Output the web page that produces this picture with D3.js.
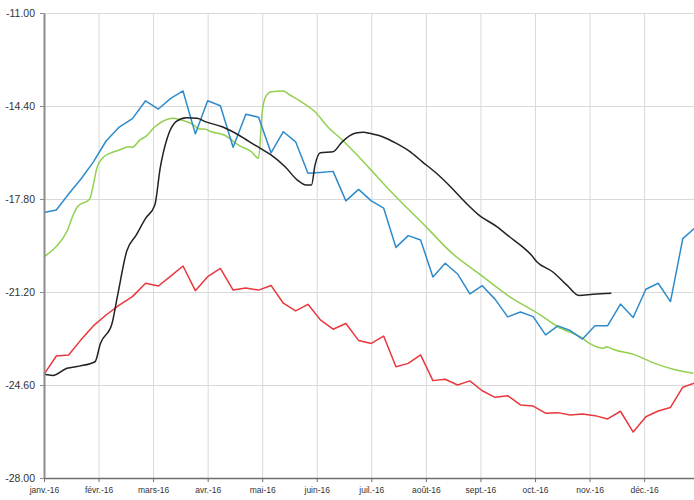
<!DOCTYPE html>
<html>
<head>
<meta charset="utf-8">
<script src="https://cdn.jsdelivr.net/npm/d3@7"></script>
<style>
  body { margin: 0; background: #fff; }
  svg { display: block; font-family: "Liberation Sans", Arial, sans-serif; }
  .grid line { stroke: #d9d9d9; stroke-width: 1; }
  .grid path { display: none; }
  .axis--y path { stroke: #8c8c8c; stroke-width: 2; }
  .axis--y line { stroke: #8c8c8c; }
  .axis--x path { stroke: #6e6e6e; stroke-width: 1.5; }
  .axis--x line { stroke: #6e6e6e; }
  .axis text { fill: #333; }
  .line { fill: none; stroke-width: 1.5; stroke-linejoin: round; }
</style>
</head>
<body>
<svg width="694" height="500"></svg>
<script>
// month labels on the x axis and values on the y axis
var monthLabels = ["janv.-16", "févr.-16", "mars-16", "avr.-16", "mai-16", "juin-16",
                   "juil.-16", "août-16", "sept.-16", "oct.-16", "nov.-16", "déc.-16"];
var yTicks = [-11, -14.4, -17.8, -21.2, -24.6, -28];

// weekly series (one value per week, from Jan 1)
var blueValues = [-18.29, -18.20, -17.62, -17.07, -16.45, -15.68, -15.17, -14.86, -14.21, -14.51,
  -14.12, -13.85, -15.42, -14.21, -14.39, -15.91, -14.70, -14.81, -16.11, -15.34,
  -15.71, -16.86, -16.83, -16.79, -17.87, -17.45, -17.87, -18.13, -19.57, -19.14,
  -19.30, -20.65, -20.15, -20.54, -21.27, -20.97, -21.46, -22.11, -21.93, -22.10,
  -22.77, -22.44, -22.61, -22.92, -22.43, -22.43, -21.64, -22.13, -21.10, -20.88,
  -21.55, -19.25, -18.85];
var redValues = [-24.21, -23.54, -23.50, -22.95, -22.44, -22.04, -21.68, -21.37, -20.88, -20.98,
  -20.62, -20.25, -21.15, -20.64, -20.34, -21.13, -21.05, -21.13, -20.96, -21.61,
  -21.89, -21.65, -22.22, -22.56, -22.35, -22.97, -23.08, -22.81, -23.93, -23.81,
  -23.50, -24.44, -24.39, -24.60, -24.45, -24.81, -25.05, -24.99, -25.33, -25.37,
  -25.63, -25.61, -25.70, -25.66, -25.72, -25.84, -25.56, -26.32, -25.76, -25.55,
  -25.42, -24.68, -24.52];

// daily-ish series, dates in 2016 (mm-dd)
var greenDates = ["01-01", "01-08", "01-14", "01-18", "01-20", "01-27", "01-29", "01-31",
  "02-03", "02-07", "02-12", "02-17", "02-19", "02-23", "02-26",
  "03-02", "03-08", "03-12", "03-16", "03-20", "03-24", "03-27", "03-30",
  "04-03", "04-10", "04-18", "04-25", "04-29",
  "05-01", "05-03", "05-06", "05-13", "05-16", "05-23", "05-31",
  "06-07", "06-15", "06-24", "06-30", "07-15", "08-01", "08-16", "08-31", "09-17",
  "10-04", "10-14", "10-28", "11-01", "11-09", "11-10", "11-15", "11-26",
  "12-07", "12-18", "12-29"];
var greenValues = [-19.91, -19.54, -18.99, -18.32, -18.08, -17.80, -17.29, -16.68,
  -16.31, -16.13, -16.01, -15.89, -15.91, -15.64, -15.52,
  -15.16, -14.91, -14.85, -14.89, -14.97, -15.09, -15.24, -15.24,
  -15.34, -15.46, -15.83, -16.07, -16.31,
  -14.61, -14.06, -13.88, -13.85, -13.97, -14.24, -14.61,
  -15.16, -15.64, -16.25, -16.68, -17.72, -18.81, -19.79, -20.52, -21.37,
  -22.04, -22.47, -22.89, -23.08, -23.26, -23.20, -23.32, -23.50,
  -23.81, -24.03, -24.17];

var blackDates = ["01-01", "01-06", "01-14", "01-21", "01-30",
  "02-02", "02-08", "02-11", "02-16", "02-21", "02-26",
  "03-02", "03-05", "03-09", "03-14", "03-20", "03-26", "03-31",
  "04-09", "04-18", "04-27",
  "05-06", "05-14", "05-21", "05-26", "05-29", "05-31",
  "06-03", "06-10", "06-15", "06-22", "06-27", "06-30",
  "07-08", "07-15", "07-23", "07-30", "08-07", "08-15", "08-24", "08-31",
  "09-10", "09-17", "09-24", "09-29", "10-02", "10-11", "10-19", "10-26",
  "11-03", "11-13"];
var blackValues = [-24.21, -24.25, -23.99, -23.91, -23.75,
  -23.08, -22.39, -21.37, -19.70, -19.12, -18.51,
  -18.02, -16.68, -15.58, -14.97, -14.83, -14.85, -14.98,
  -15.16, -15.46, -15.83,
  -16.19, -16.62, -17.11, -17.29, -17.29, -16.56,
  -16.11, -16.07, -15.71, -15.40, -15.36, -15.40,
  -15.54, -15.76, -16.07, -16.44, -16.86, -17.35, -17.96, -18.38,
  -18.81, -19.18, -19.54, -19.85, -20.09, -20.46, -20.94, -21.33,
  -21.28, -21.25];

var svg = d3.select("svg"),
    margin = {top: 13, right: 0, bottom: 22, left: 44},
    width = +svg.attr("width") - margin.left - margin.right,
    height = +svg.attr("height") - margin.top - margin.bottom;

var parseDay = d3.timeParse("%Y-%m-%d");
var weeks = d3.timeDay.range(new Date(2016, 0, 1), new Date(2016, 11, 31), 7);
var monthStarts = d3.timeMonth.range(new Date(2016, 0, 1), new Date(2017, 0, 2));
var monthWidth = width / 11.915;

// every month gets the same width, like the original axis
var x = d3.scaleTime()
    .domain(monthStarts)
    .range(monthStarts.map(function(d, i) { return i * monthWidth; }));
var y = d3.scaleLinear().domain([-28, -11]).range([height, 0]);

var fmt = d3.formatLocale({decimal: ".", thousands: ",", grouping: [3], currency: ["", ""], minus: "-"}).format(".2f");

var g = svg.append("g")
    .attr("transform", "translate(" + margin.left + "," + margin.top + ")");

// gridlines
g.append("g")
    .attr("class", "grid")
    .call(d3.axisLeft(y).tickValues(yTicks).tickSize(-width).tickFormat(""));
g.append("g")
    .attr("class", "grid")
    .attr("transform", "translate(0," + height + ")")
    .call(d3.axisBottom(x).tickValues(monthStarts.slice(1, 12)).tickSize(height).tickFormat(""))
  .selectAll("line")
    .attr("y2", -height);

var weekly = function(values) {
  return values.map(function(v, i) { return {date: weeks[i], value: v}; });
};
var daily = function(dates, values) {
  return values.map(function(v, i) { return {date: parseDay("2016-" + dates[i]), value: v}; });
};

var line = d3.line()
    .x(function(d) { return x(d.date); })
    .y(function(d) { return y(d.value); });
// the daily series look smooth in the original
var smooth = d3.line()
    .curve(d3.curveMonotoneX)
    .x(function(d) { return x(d.date); })
    .y(function(d) { return y(d.value); });

var series = [
  {data: daily(greenDates, greenValues), color: "#92d050", w: 1.4, gen: smooth},
  {data: weekly(redValues), color: "#e8383d", w: 1.5, gen: line},
  {data: weekly(blueValues), color: "#2e8bcb", w: 1.5, gen: line},
  {data: daily(blackDates, blackValues), color: "#222222", w: 1.5, gen: smooth}
];

series.forEach(function(s) {
  g.append("path")
      .datum(s.data)
      .attr("class", "line")
      .attr("stroke", s.color)
      .attr("stroke-width", s.w)
      .attr("d", s.gen);
});

// axes
var xAxis = g.append("g")
    .attr("class", "axis axis--x")
    .attr("transform", "translate(0," + height + ")")
    .call(d3.axisBottom(x)
      .tickValues(monthStarts.slice(0, 12))
      .tickFormat(function(d, i) { return monthLabels[i]; })
      .tickSize(4)
      .tickSizeOuter(0)
      .tickPadding(5));
xAxis.selectAll("text").style("font-size", "8.5px");

var yAxis = g.append("g")
    .attr("class", "axis axis--y")
    .call(d3.axisLeft(y)
      .tickValues(yTicks)
      .tickFormat(fmt)
      .tickSize(4)
      .tickSizeOuter(0)
      .tickPadding(5));
yAxis.selectAll("text").style("font-size", "10.5px");
</script>
</body>
</html>
